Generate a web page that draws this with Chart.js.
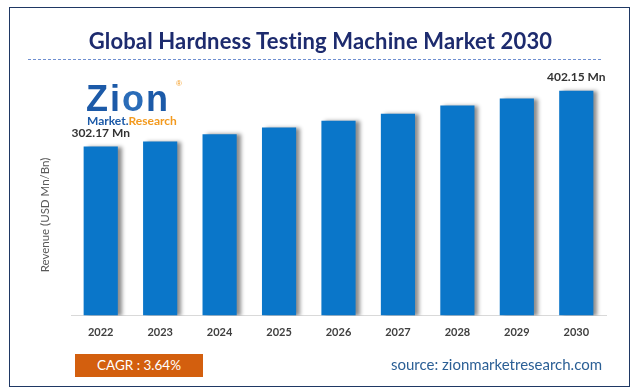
<!DOCTYPE html>
<html>
<head>
<meta charset="utf-8">
<script src="https://cdn.jsdelivr.net/npm/chart.js@4"></script>
<style>
  html, body { margin: 0; padding: 0; background: #fff; }
  #wrap { position: relative; width: 639px; height: 391px; overflow: hidden; background: #fff; }
  #c { position: absolute; left: 0; top: 0; }
  .abs { position: absolute; white-space: nowrap; }
  #frame { left: 9px; top: 7px; width: 619px; height: 378px; border: 1.5px solid #1f3864; }
  #title { left: 0; width: 641px; top: 27px; text-align: center; font: bold 22px Lato, sans-serif; letter-spacing: 0.15px; color: #1d2b6e; }
  #dash { left: 28px; top: 59px; width: 573px; height: 0; border-top: 1px dashed #6f8fd0; }
  #ytitle { left: 44px; top: 215px; transform: translate(-50%, -50%) rotate(-90deg); font: 11.5px Lato, sans-serif; color: #595959; }
  #logo1 { left: 86px; top: 80px; font: bold 36px "Liberation Sans", Arial, sans-serif; color: #1c5aa8; letter-spacing: 2px; line-height: 38px; }
  #logo1 .o { color: #2a6cb8; }
  #reg { left: 176px; top: 79px; font: 8px "Liberation Sans", sans-serif; color: #f39a1e; }
  #logo2 { left: 87px; top: 114px; font: bold 12px Lato, sans-serif; line-height: 14px; }
  #cagr { left: 75px; top: 354px; width: 128px; height: 23px; background: #d35f0e; color: #fff; font: 13.5px Lato, sans-serif; line-height: 23px; text-align: center; }
  #src { left: 391px; top: 355px; font: 15px Lato, sans-serif; color: #2b5f95; }
</style>
</head>
<body>
<div id="wrap">
  <canvas id="c" width="639" height="391"></canvas>
  <div class="abs" id="frame"></div>
  <div class="abs" id="title">Global Hardness Testing Machine Market 2030</div>
  <div class="abs" id="dash"></div>
  <div class="abs" id="ytitle">Revenue (USD Mn/Bn)</div>
  <div class="abs" id="logo1">Zi<span class="o">o</span>n</div>
  <div class="abs" id="reg">®</div>
  <div class="abs" id="logo2"><span style="color:#1c5aa8">Market.</span><span style="color:#f39a1e">Research</span></div>
  <div class="abs" id="cagr">CAGR : 3.64%</div>
  <div class="abs" id="src">source: zionmarketresearch.com</div>
</div>
<script>
const categories = ["2022", "2023", "2024", "2025", "2026", "2027", "2028", "2029", "2030"];
const revenue = [302.17, 311.2, 324.3, 336.2, 348.2, 360.7, 375.6, 388.1, 402.15];
const valueLabels = ["302.17 Mn", "", "", "", "", "", "", "", "402.15 Mn"];

const shadowPlugin = {
  id: 'barShadow',
  beforeDatasetDraw(chart) {
    const ctx = chart.ctx;
    ctx.save();
    ctx.shadowColor = 'rgba(0,0,0,0.45)';
    ctx.shadowOffsetX = 4;
    ctx.shadowOffsetY = 0;
    ctx.shadowBlur = 4;
  },
  afterDatasetDraw(chart) {
    chart.ctx.restore();
  }
};

const labelPlugin = {
  id: 'valueLabels',
  afterDatasetsDraw(chart) {
    const ctx = chart.ctx;
    const meta = chart.getDatasetMeta(0);
    ctx.save();
    ctx.font = 'bold 12px Lato, sans-serif';
    ctx.fillStyle = '#333333';
    ctx.textAlign = 'center';
    ctx.textBaseline = 'middle';
    meta.data.forEach((bar, i) => {
      if (valueLabels[i]) ctx.fillText(valueLabels[i], bar.x, bar.y - 13.5);
    });
    ctx.restore();
  }
};

new Chart(document.getElementById('c'), {
  type: 'bar',
  data: {
    labels: categories,
    datasets: [{
      data: revenue,
      backgroundColor: '#0a76c9',
      borderWidth: 0,
      categoryPercentage: 1,
      barPercentage: 0.575
    }]
  },
  options: {
    responsive: false,
    animation: false,
    events: [],
    layout: { padding: { left: 71, right: 33, top: 69.5, bottom: 0 } },
    plugins: { legend: { display: false }, tooltip: { enabled: false }, title: { display: false } },
    scales: {
      x: {
        grid: { display: false, drawTicks: false },
        border: { display: true, color: '#d9d9d9', width: 1 },
        ticks: { color: '#404040', font: { family: 'Lato, sans-serif', size: 11, weight: 'bold' }, padding: 10 },
        afterFit(s) { s.height = 75.5; }
      },
      y: {
        display: false,
        min: 0,
        max: 440
      }
    }
  },
  plugins: [shadowPlugin, labelPlugin]
});
</script>
</body>
</html>
